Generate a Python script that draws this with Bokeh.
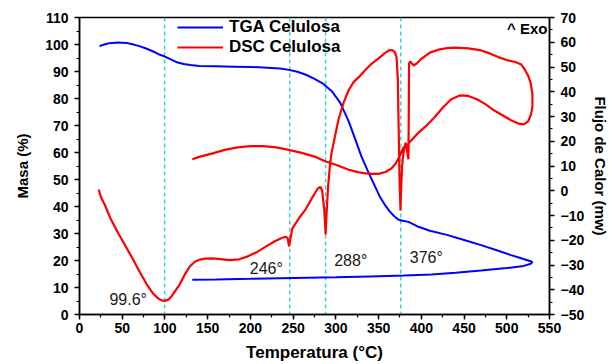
from bokeh.plotting import figure
from bokeh.models import (Range1d, LinearAxis, Span, Label, Legend, LegendItem,
                          SingleIntervalTicker)
from bokeh.embed import file_html
from bokeh.resources import INLINE

# ---- data ----
tga_temp = [23.5, 25, 30, 35, 45, 55, 62, 70, 78, 85, 92, 100, 108, 115, 122, 130,
            140, 160, 180, 200, 220, 235, 245, 255, 265, 275, 285, 295, 305, 315,
            322, 330, 338, 345, 352, 358, 363, 368, 373, 378, 385, 395, 410, 430,
            450, 470, 490, 505, 515, 523, 528, 530,
            528, 520, 500, 470, 440, 412, 380, 340, 300, 250, 200, 160, 132]
tga_mass = [99.3, 99.6, 100.1, 100.5, 100.7, 100.6, 100.1, 99.4, 98.5, 97.6, 96.5,
            95.5, 94.3, 93.3, 92.8, 92.4, 92.0, 91.9, 91.8, 91.7, 91.4, 91.1, 90.6,
            89.9, 88.8, 87.3, 85.5, 82.8, 78.5, 71.5, 65.5, 58.5, 52.7, 48.0, 43.3,
            40.3, 38.2, 36.5, 35.2, 34.7, 34.3, 32.7, 31.0, 29.5, 27.6, 25.7, 23.6,
            22.0, 21.0, 20.2, 19.7, 19.4,
            18.8, 18.0, 17.2, 16.3, 15.5, 14.8, 14.4, 14.1, 13.8, 13.5, 13.2, 13.0, 12.9]

dsc_temp = [22.5, 25, 30, 36, 45, 55, 63, 70, 79, 86, 92, 96, 100, 104, 108, 113,
            117, 123, 129, 135, 141, 147, 155, 165, 175, 187, 197, 208, 218, 228,
            236, 241, 243.5, 245.3, 246.5, 249, 257, 265, 272, 279, 282, 284, 286.5,
            288, 289, 291, 293, 295, 299, 303, 309, 315, 321, 327, 335, 342, 350,
            357, 362, 366, 369, 371, 372.5, 373.5, 374.5, 375.6, 376.5, 377.5, 379,
            381.5, 383, 384.9, 385.3, 385.7, 387, 388, 391, 395, 400, 410, 420, 430,
            440, 455, 470, 480, 490, 500, 510, 517, 521, 525, 528, 530, 530, 528.5,
            525, 520, 515, 505, 495, 485, 475, 465, 455, 445, 435, 425, 415, 405,
            396.5, 390, 384, 379, 374.7, 370, 365, 358, 350, 342, 335, 327, 315,
            300, 288, 275, 260, 245, 230, 215, 200, 185, 170, 155, 140, 132]
dsc_flow = [0.5, -2.5, -6, -11, -17, -23, -28, -32.5, -38, -41.5, -43.5, -44.3,
            -44.5, -44, -42.5, -40, -38, -34, -30.6, -28.7, -27.8, -27.4, -27.3,
            -27.6, -28, -27.7, -26.5, -24.7, -22.6, -20.5, -19.2, -18.6, -19, -22.5,
            -20, -15.3, -11, -7.3, -3, 1, 1.5, 0, -8, -17.7, -10, 2, 10, 15.4, 22,
            28.7, 35.5, 40.7, 44, 46, 49, 51.4, 53.5, 55.5, 56.7, 56.8, 56, 54, 45,
            25, 5, -8, 2, 10, 15, 19.4, 17, 12.7, 30, 51.4, 52.3, 51.8, 50.6, 51.5,
            53.3, 55.8, 57, 57.6, 57.8, 57.5, 56.7, 55.5, 54, 52.8, 52, 51, 49, 46.5,
            43.5, 39, 34, 31, 28, 26.8, 27, 28.5, 30.5, 32.5, 35, 37, 38.3, 38.5, 37,
            33.5, 29.5, 26, 23.4, 21, 18.7, 17.4, 14, 11, 9, 7.6, 6.8, 6.8, 7, 7.4,
            8.5, 10.5, 11.8, 13.8, 15.3, 16.5, 17.5, 18, 18, 17.5, 16.5, 15, 13.7, 12.7]

peak_temps = [99.6, 246, 288, 376]
peak_labels = ["99.6°", "246°", "288°", "376°"]
peak_label_x = [57, 218.6, 317.4, 405.8]
peak_label_y = [5.5, 17.2, 19.9, 21.2]

series_names = ["TGA Celulosa", "DSC Celulosa"]

FONT = "Liberation Sans"

p = figure(width=612, height=364, x_range=Range1d(0, 550), y_range=Range1d(0, 110),
           output_backend="svg", toolbar_location=None,
           min_border_left=79, min_border_right=60, min_border_top=17,
           min_border_bottom=47)
p.extra_y_ranges = {"dsc": Range1d(-50, 70)}
p.grid.visible = False
p.outline_line_color = "black"
p.outline_line_width = 1.5
p.background_fill_color = "white"

raxis = LinearAxis(y_range_name="dsc", axis_label="Flujo de Calor (mw)")
p.add_layout(raxis, "right")

p.xaxis.ticker = SingleIntervalTicker(interval=50, num_minor_ticks=2)
p.yaxis[0].ticker = SingleIntervalTicker(interval=10, num_minor_ticks=2)
raxis.ticker = SingleIntervalTicker(interval=10, num_minor_ticks=2)

p.xaxis.axis_label = "Temperatura (°C)"
p.yaxis[0].axis_label = "Masa (%)"

for ax in [p.xaxis[0], p.yaxis[0], raxis]:
    ax.axis_line_width = 1.5
    ax.axis_line_color = "black"
    ax.major_tick_line_width = 1.5
    ax.minor_tick_line_width = 1.2
    ax.major_tick_out = 5
    ax.major_tick_in = 0
    ax.minor_tick_out = 3
    ax.minor_tick_in = 0
    ax.major_label_text_font = FONT
    ax.major_label_text_font_style = "bold"
    ax.major_label_text_font_size = "14px"
    ax.major_label_text_color = "black"
    ax.axis_label_text_font = FONT
    ax.axis_label_text_font_style = "bold"
    ax.axis_label_text_color = "black"

p.xaxis.major_label_standoff = 3
p.xaxis.axis_label_standoff = 7
p.xaxis.axis_label_text_font_size = "17px"
p.yaxis[0].major_label_standoff = 6
p.yaxis[0].axis_label_standoff = 11
p.yaxis[0].axis_label_text_font_size = "15px"
raxis.major_label_standoff = 6
raxis.axis_label_standoff = 5
raxis.axis_label_text_font_size = "15px"

for t in peak_temps:
    p.add_layout(Span(location=t, dimension="height", line_color="#3fcfd2",
                      line_dash="4 3", line_width=1.5, level="underlay"))

r_tga = p.line(tga_temp, tga_mass, line_color="#0000ff", line_width=2)
r_dsc = p.line(dsc_temp, dsc_flow, line_color="#ff0000", line_width=2.2,
               y_range_name="dsc")

for lx, ly, lt in zip(peak_label_x, peak_label_y, peak_labels):
    p.add_layout(Label(x=lx, y=ly, text=lt, text_align="center",
                       text_baseline="middle", text_font=FONT,
                       text_font_size="16px", text_color="#1a1a1a"))

p.add_layout(Label(x=547.7, y=105.8, text="^ Exo", text_align="right",
                   text_baseline="middle", text_font=FONT, text_font_style="bold",
                   text_font_size="15px", text_color="black"))

legend = Legend(items=[LegendItem(label=series_names[0], renderers=[r_tga]),
                       LegendItem(label=series_names[1], renderers=[r_dsc])],
                location=(98, 257), orientation="vertical")
legend.glyph_width = 46
legend.glyph_height = 20
legend.label_height = 20
legend.label_standoff = 6
legend.spacing = 0
legend.padding = 0
legend.margin = 0
legend.border_line_alpha = 0
legend.background_fill_alpha = 0
legend.label_text_font = FONT
legend.label_text_font_style = "bold"
legend.label_text_font_size = "17px"
legend.label_text_color = "black"
p.add_layout(legend, "center")

open("out.html", "w").write(file_html(p, INLINE))
